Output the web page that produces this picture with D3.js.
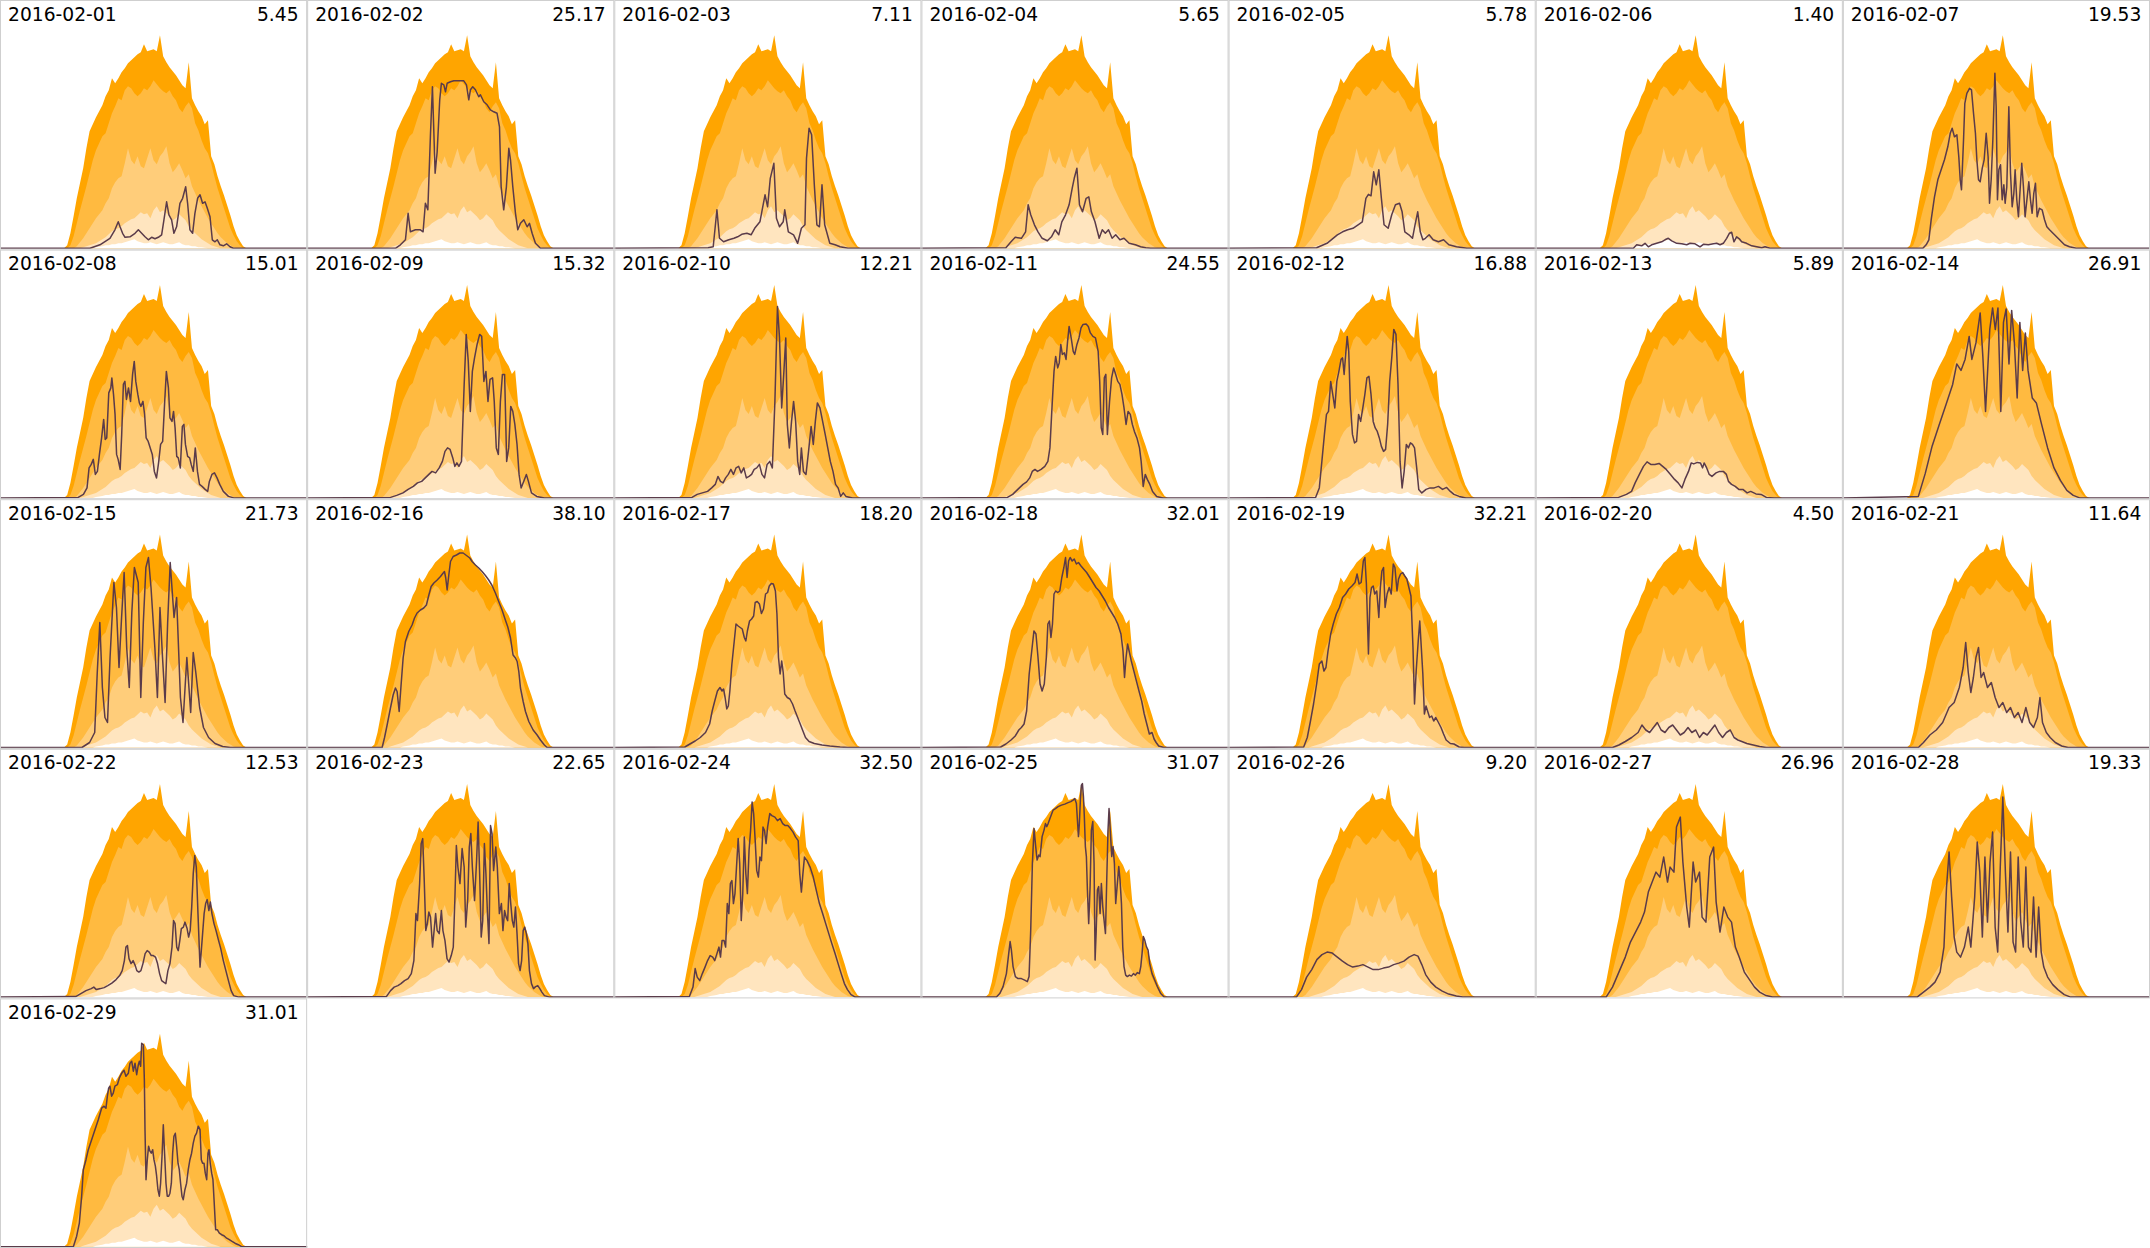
<!DOCTYPE html>
<html><head><meta charset="utf-8">
<script src="https://cdn.jsdelivr.net/npm/d3@7/dist/d3.min.js"></script>
<style>body{margin:0;background:#fff}svg{display:block}</style>
</head><body><svg id="c" width="2150" height="1248"></svg>
<script>
const dates = ["2016-02-01","2016-02-02","2016-02-03","2016-02-04","2016-02-05","2016-02-06","2016-02-07",
"2016-02-08","2016-02-09","2016-02-10","2016-02-11","2016-02-12","2016-02-13","2016-02-14",
"2016-02-15","2016-02-16","2016-02-17","2016-02-18","2016-02-19","2016-02-20","2016-02-21",
"2016-02-22","2016-02-23","2016-02-24","2016-02-25","2016-02-26","2016-02-27","2016-02-28","2016-02-29"];
const totals = ["5.45","25.17","7.11","5.65","5.78","1.40","19.53","15.01","15.32","12.21","24.55","16.88","5.89","26.91",
"21.73","38.10","18.20","32.01","32.21","4.50","11.64","12.53","22.65","32.50","31.07","9.20","26.96","19.33","31.01"];

// quantile envelopes over all days (kW), sampled every 15 min from 05:00 to 19:30
const bandHours = d3.range(5, 19.5001, 0.25);
const bandMax = [0,0.06,0.30,0.64,1.00,1.30,1.60,2.00,2.34,2.48,2.62,2.74,2.86,3.04,3.16,3.40,3.30,3.40,3.52,3.60,3.70,3.76,3.82,3.88,3.92,4.08,3.94,3.96,3.98,3.94,4.26,3.84,3.72,3.62,3.54,3.46,3.36,3.26,3.20,3.72,3.00,2.86,2.74,2.64,2.48,2.56,1.84,1.68,1.44,1.24,1.06,0.86,0.66,0.44,0.26,0.14,0.04,0,0];
const bandQ75 = [0,0,0.06,0.24,0.5,0.76,1.0,1.24,1.5,1.76,1.96,2.1,2.24,2.3,2.5,2.7,2.84,3.0,2.96,3.16,3.24,3.2,3.1,3.04,3.1,3.2,3.16,3.24,3.36,3.28,3.2,3.14,3.1,3.16,3.04,2.96,2.8,2.72,2.84,2.92,2.8,2.5,2.36,2.16,2.0,1.9,1.7,1.44,1.2,1.0,0.8,0.6,0.4,0.26,0.14,0.06,0,0,0];
const bandQ50 = [0,0,0,0,0.04,0.12,0.2,0.3,0.4,0.5,0.6,0.68,0.76,0.9,1.0,1.2,1.32,1.4,1.44,1.7,2.0,1.76,1.68,1.84,1.64,1.6,1.8,2.0,1.76,1.68,1.84,1.92,2.04,1.7,1.52,1.6,1.7,1.56,1.4,1.48,1.24,1.1,0.96,0.84,0.72,0.6,0.5,0.4,0.3,0.22,0.16,0.1,0.06,0.02,0,0,0,0,0];
const bandQ25 = [0,0,0,0,0,0,0.02,0.04,0.06,0.08,0.1,0.14,0.18,0.22,0.28,0.34,0.38,0.4,0.44,0.5,0.54,0.58,0.6,0.66,0.72,0.68,0.7,0.6,0.76,0.84,0.72,0.76,0.7,0.64,0.56,0.6,0.68,0.62,0.56,0.44,0.36,0.3,0.24,0.18,0.14,0.1,0.06,0.04,0.02,0,0,0,0,0,0,0,0,0,0];
const bandLow = [0,0,0,0,0,0,0,0,0,0,0.02,0.03,0.04,0.06,0.06,0.08,0.08,0.1,0.1,0.12,0.14,0.16,0.18,0.14,0.12,0.1,0.1,0.12,0.1,0.08,0.1,0.12,0.1,0.08,0.08,0.1,0.12,0.08,0.06,0.06,0.04,0.04,0.02,0.02,0.01,0,0,0,0,0,0,0,0,0,0,0,0,0,0];

// daily power curves: [hour, kW, hour, kW, ...]
const day01 = [7.03,0,7.81,0.07,8.59,0.2,8.98,0.37,9.24,0.53,9.38,0.43,9.58,0.3,9.77,0.22,10.16,0.23,10.55,0.3,10.81,0.37,11.07,0.3,11.33,0.23,11.59,0.17,11.85,0.22,12.11,0.19,12.37,0.22,12.63,0.27,12.81,0.57,13.02,0.93,13.2,0.67,13.41,0.57,13.59,0.3,13.8,0.43,14.06,0.9,14.27,1.0,14.51,1.23,14.66,0.9,14.84,0.37,15.05,0.3,15.23,0.7,15.44,1.0,15.63,1.07,15.83,0.9,16.02,0.93,16.2,0.8,16.41,0.63,16.59,0.17,16.8,0.13,16.98,0.17,17.19,0.07,17.45,0.05,17.71,0.09,17.97,0.03,18.23,0];
const day02 = [6.9,0,7.29,0.07,7.68,0.17,7.89,0.7,8.07,0.33,8.46,0.37,8.85,0.37,9.06,0.33,9.24,0.9,9.43,0.77,9.64,2.3,9.79,3.23,10.0,1.5,10.16,1.93,10.36,2.97,10.49,3.3,10.68,3.27,10.81,3.13,10.94,3.3,11.2,3.33,11.46,3.35,12.24,3.35,12.45,3.27,12.63,2.97,12.76,3.17,12.94,3.23,13.15,3.17,13.41,3.03,13.54,3.07,13.8,2.93,14.06,2.87,14.32,2.77,14.58,2.73,14.84,2.7,15.03,2.43,15.16,1.23,15.36,0.77,15.57,1.23,15.76,2.0,15.89,1.77,16.07,1.23,16.28,0.7,16.46,0.37,16.67,0.5,16.93,0.57,17.19,0.43,17.37,0.5,17.58,0.3,17.84,0.1,18.23,0];
const day03 = [7.33,0.01,7.73,0.03,8.02,0.77,8.22,0.2,8.54,0.13,8.95,0.17,9.35,0.2,9.64,0.23,9.96,0.28,10.36,0.3,10.69,0.27,10.97,0.4,11.38,0.53,11.78,1.07,11.98,0.83,12.19,1.4,12.47,1.7,12.67,0.6,12.91,0.43,13.2,0.53,13.32,0.77,13.6,0.33,14.01,0.27,14.33,0.1,14.62,0.4,14.9,0.47,15.02,1.8,15.22,2.4,15.42,2.27,15.63,1.27,15.83,0.47,16.03,0.43,16.23,1.27,16.44,0.47,16.84,0.1,17.25,0.07,17.65,0.03,18.26,0];
const day04 = [6.6,0.01,7.0,0.13,7.33,0.22,7.81,0.2,8.14,0.33,8.34,0.87,8.54,0.67,8.83,0.47,9.11,0.33,9.43,0.2,9.84,0.15,10.16,0.23,10.45,0.37,10.73,0.27,10.97,0.53,11.26,0.67,11.54,0.87,11.78,1.2,11.94,1.4,12.15,1.6,12.35,0.87,12.59,0.73,12.87,1.0,13.08,1.03,13.28,0.73,13.56,0.53,13.89,0.2,14.13,0.37,14.37,0.3,14.62,0.37,14.9,0.2,15.18,0.27,15.51,0.17,15.83,0.2,16.23,0.1,16.72,0.07,17.13,0.03,17.53,0.01,17.9,0];
const day05 = [6.88,0.01,7.69,0.1,8.5,0.27,8.91,0.33,9.31,0.37,9.72,0.4,10.12,0.47,10.45,0.53,10.73,1.0,10.93,1.08,11.13,1.05,11.34,1.53,11.54,1.27,11.74,1.57,11.94,1.0,12.15,0.47,12.47,0.4,12.75,0.67,13.04,0.87,13.36,0.9,13.56,0.73,13.77,0.33,14.09,0.27,14.37,0.2,14.57,0.47,14.78,0.73,14.98,0.33,15.18,0.17,15.38,0.2,15.67,0.27,15.99,0.17,16.4,0.13,16.8,0.17,17.21,0.07,17.81,0.03,18.62,0];
const day06 = [7.63,0,7.89,0.07,8.28,0.05,8.54,0.1,8.8,0.03,9.06,0.07,9.45,0.1,9.84,0.13,10.1,0.17,10.36,0.2,10.63,0.15,11.02,0.1,11.41,0.09,11.8,0.07,12.06,0.1,12.45,0.09,12.84,0.03,13.1,0.08,13.49,0.07,13.88,0.09,14.14,0.1,14.4,0.07,14.66,0.1,14.92,0.2,15.13,0.3,15.31,0.32,15.49,0.13,15.7,0.23,15.91,0.19,16.09,0.13,16.48,0.1,16.88,0.05,17.27,0.03,17.66,0.01,17.92,0.03,18.31,0];
const day07 = [6.25,0,6.51,0.07,6.72,0.17,6.9,0.57,7.16,1.03,7.42,1.37,7.68,1.57,7.94,1.77,8.2,2.03,8.39,2.3,8.54,2.4,8.72,2.23,8.91,2.27,9.06,1.83,9.17,1.37,9.27,1.17,9.43,2.17,9.53,2.9,9.69,3.1,9.9,3.2,10.05,3.17,10.21,2.7,10.36,2.3,10.47,1.77,10.6,1.37,10.73,1.33,10.89,1.6,11.04,1.77,11.2,2.3,11.35,1.83,11.46,0.9,11.59,1.37,11.72,2.17,11.88,3.5,11.98,2.83,12.08,0.97,12.19,1.57,12.32,1.67,12.45,0.97,12.58,1.27,12.68,0.9,12.81,1.23,12.97,2.83,13.1,1.5,13.23,0.83,13.36,1.1,13.46,1.57,13.59,0.97,13.72,0.63,13.85,1.17,13.98,1.7,14.11,1.23,14.24,0.63,14.38,0.97,14.53,1.33,14.66,0.97,14.79,0.7,14.92,1.1,15.05,1.3,15.18,0.63,15.36,0.8,15.57,0.77,15.76,0.57,15.94,0.43,16.15,0.37,16.54,0.27,16.93,0.17,17.32,0.07,17.71,0.03,18.23,0];
const day08 = [6.11,0.01,6.52,0.07,6.8,0.2,6.96,0.6,7.13,0.67,7.29,0.77,7.45,0.47,7.61,0.53,7.77,0.87,7.94,1.2,8.1,1.57,8.22,1.17,8.34,1.2,8.5,2.1,8.66,2.2,8.74,2.4,8.87,2.07,8.99,1.67,9.11,0.87,9.23,0.77,9.39,0.57,9.51,1.27,9.64,2.27,9.76,2.33,9.88,1.97,10.04,2.2,10.2,1.93,10.36,2.47,10.49,2.73,10.61,2.33,10.77,2.07,10.89,1.9,11.01,1.83,11.17,1.93,11.3,1.67,11.42,1.2,11.58,1.13,11.74,1.0,11.9,0.87,12.06,0.53,12.23,0.4,12.39,0.7,12.55,1.07,12.71,1.13,12.87,1.93,13.0,2.53,13.16,2.2,13.28,1.6,13.44,1.53,13.56,1.73,13.68,1.4,13.81,0.83,13.93,0.8,14.09,0.6,14.25,1.43,14.37,1.47,14.49,1.07,14.66,0.83,14.82,0.8,14.94,0.67,15.1,0.53,15.26,1.0,15.43,0.53,15.59,0.27,15.79,0.23,16.03,0.17,16.23,0.13,16.36,0.33,16.56,0.47,16.76,0.5,16.96,0.4,17.17,0.27,17.45,0.13,17.85,0.03,18.26,0];
const day09 = [6.52,0.01,7.0,0.05,7.49,0.1,7.89,0.17,8.3,0.23,8.62,0.3,8.95,0.33,9.23,0.4,9.51,0.47,9.76,0.53,10.04,0.5,10.32,0.6,10.57,0.73,10.77,0.93,10.97,1.0,11.17,0.97,11.38,0.8,11.54,0.63,11.7,0.7,11.86,0.63,12.06,0.73,12.27,2.27,12.43,3.27,12.59,2.73,12.75,1.73,12.91,2.53,13.08,2.8,13.28,3.07,13.48,3.27,13.64,3.23,13.81,2.33,13.97,2.53,14.13,1.93,14.29,2.37,14.49,2.4,14.62,1.93,14.78,1.0,14.94,0.87,15.1,1.93,15.26,2.47,15.43,2.47,15.59,0.73,15.75,1.0,15.91,1.83,16.07,1.73,16.23,1.47,16.4,1.07,16.56,0.47,16.72,0.2,16.92,0.33,17.13,0.47,17.29,0.33,17.53,0.1,17.94,0.03,18.54,0];
const day10 = [6.07,0.01,6.48,0.07,6.88,0.1,7.29,0.13,7.61,0.2,7.89,0.27,8.1,0.43,8.3,0.33,8.5,0.3,8.7,0.4,8.91,0.47,9.11,0.57,9.31,0.47,9.51,0.6,9.72,0.63,9.92,0.5,10.12,0.6,10.32,0.4,10.53,0.43,10.73,0.47,10.93,0.57,11.13,0.6,11.34,0.67,11.54,0.47,11.74,0.4,11.94,0.67,12.15,0.73,12.35,0.6,12.55,1.93,12.75,3.83,12.91,3.2,13.08,1.8,13.24,2.47,13.4,3.2,13.52,1.47,13.68,1.0,13.85,1.53,14.01,1.93,14.17,1.53,14.33,0.73,14.49,0.47,14.62,1.0,14.78,0.53,14.98,0.47,15.18,0.93,15.38,1.43,15.55,1.07,15.71,1.53,15.87,1.9,16.07,1.8,16.28,1.53,16.48,1.27,16.68,1.0,16.88,0.73,17.09,0.53,17.29,0.27,17.49,0.2,17.69,0.03,17.89,0.1,18.1,0.03,18.62,0];
const day11 = [6.72,0.01,7.13,0.07,7.53,0.17,7.94,0.27,8.22,0.32,8.46,0.4,8.66,0.53,8.87,0.57,9.07,0.53,9.35,0.57,9.64,0.63,9.88,0.73,10.04,1.0,10.2,1.8,10.36,2.53,10.49,2.83,10.65,2.6,10.77,2.7,10.89,3.07,11.01,2.87,11.17,2.9,11.3,2.77,11.42,3.13,11.54,3.43,11.7,3.2,11.86,2.93,11.98,2.87,12.15,3.07,12.31,3.2,12.47,3.4,12.63,3.47,12.87,3.48,13.04,3.43,13.2,3.3,13.4,3.23,13.6,3.2,13.81,2.93,13.93,2.33,14.05,1.4,14.17,1.27,14.29,2.4,14.41,2.47,14.53,1.27,14.7,1.93,14.86,2.4,15.02,2.6,15.18,2.47,15.34,2.33,15.51,2.27,15.67,2.07,15.83,1.8,15.99,1.47,16.15,1.73,16.32,1.67,16.48,1.47,16.64,1.33,16.84,1.2,17.04,1.0,17.17,0.73,17.33,0.23,17.49,0.47,17.65,0.37,17.85,0.27,18.06,0.13,18.38,0.03,18.87,0];
const day12 = [6.8,0.01,7.09,0.2,7.29,0.73,7.49,1.27,7.65,1.67,7.81,1.73,7.98,2.33,8.14,2.07,8.3,1.8,8.46,2.33,8.62,2.53,8.79,2.77,8.91,2.8,9.03,2.47,9.15,2.87,9.27,3.23,9.39,2.93,9.51,1.93,9.68,1.27,9.84,1.1,10.0,1.13,10.16,1.67,10.32,1.53,10.49,1.8,10.65,2.07,10.81,2.4,10.97,2.43,11.13,2.07,11.3,1.53,11.46,1.4,11.62,1.33,11.78,1.2,11.94,1.03,12.11,0.93,12.27,0.97,12.43,1.47,12.59,2.33,12.75,2.8,12.91,3.37,13.08,3.27,13.24,2.27,13.4,0.73,13.56,0.2,13.72,0.53,13.89,1.07,14.05,1.0,14.21,1.1,14.37,1.07,14.53,1.0,14.7,0.6,14.86,0.17,15.1,0.1,15.43,0.17,15.75,0.2,16.07,0.2,16.4,0.23,16.72,0.17,17.04,0.21,17.33,0.13,17.61,0.07,18.02,0.03,18.54,0];
const day13 = [6.48,0.01,7.09,0.07,7.49,0.13,7.77,0.3,8.1,0.47,8.42,0.63,8.7,0.72,8.99,0.67,9.31,0.67,9.64,0.69,9.92,0.63,10.2,0.57,10.53,0.47,10.85,0.37,11.13,0.3,11.42,0.2,11.66,0.37,11.94,0.53,12.15,0.7,12.35,0.68,12.63,0.71,12.87,0.7,13.04,0.6,13.16,0.7,13.36,0.6,13.56,0.47,13.77,0.43,14.09,0.5,14.37,0.53,14.66,0.53,14.9,0.47,15.06,0.33,15.3,0.27,15.59,0.23,15.87,0.17,16.19,0.17,16.52,0.1,16.8,0.13,17.21,0.08,17.61,0.07,18.02,0.01,18.62,0];
const day14 = [5.9,0.03,6.44,0.49,6.98,1.04,7.51,1.45,8.05,1.86,8.58,2.27,8.9,2.68,9.23,2.55,9.55,2.77,9.87,3.23,10.08,2.77,10.4,3.1,10.73,3.7,10.94,2.82,11.15,1.73,11.48,3.37,11.7,3.8,11.91,3.37,12.12,3.8,12.34,1.73,12.55,3.51,12.76,3.78,12.98,2.68,13.19,3.75,13.4,3.11,13.62,2.0,13.83,3.51,14.05,2.55,14.26,3.3,14.47,2.55,14.8,2.0,15.12,1.9,15.5,1.5,16.0,1.0,16.5,0.6,17.0,0.35,17.5,0.15,18.0,0.05,18.5,0];
const day15 = [6.4,0,7.0,0.1,7.4,0.3,7.6,1.5,7.8,2.5,8.0,1.2,8.2,0.6,8.4,0.5,8.6,1.8,8.9,3.3,9.1,2.8,9.3,1.6,9.5,2.6,9.7,3.5,9.9,2.0,10.1,1.2,10.3,2.7,10.5,3.6,10.8,3.3,11.0,1.0,11.2,2.5,11.4,3.6,11.6,3.8,11.8,3.2,12.1,2.0,12.3,1.0,12.5,2.8,12.7,1.8,12.9,0.9,13.1,2.5,13.3,3.7,13.6,2.6,13.8,3.0,14.1,1.0,14.3,0.5,14.6,1.8,14.9,0.7,15.1,1.9,15.3,1.5,15.6,0.8,15.9,0.4,16.3,0.2,16.8,0.08,17.4,0.02,18.0,0];
const day16 = [5.86,0,6.04,0.19,6.25,0.45,6.51,0.79,6.72,1.05,6.9,1.19,7.03,1.12,7.19,0.72,7.34,1.25,7.5,1.79,7.68,2.12,7.94,2.32,8.2,2.45,8.39,2.59,8.59,2.69,8.85,2.75,9.11,2.79,9.32,2.85,9.51,3.05,9.69,3.22,9.9,3.29,10.16,3.35,10.42,3.42,10.63,3.49,10.73,3.52,10.83,3.39,10.94,3.15,11.07,3.45,11.2,3.72,11.41,3.82,11.67,3.85,11.93,3.89,12.19,3.89,12.45,3.84,12.71,3.79,12.89,3.72,13.15,3.65,13.41,3.59,13.67,3.52,13.93,3.44,14.19,3.35,14.45,3.24,14.71,3.09,14.97,2.92,15.23,2.75,15.49,2.55,15.68,2.41,15.89,2.19,16.09,1.85,16.28,1.79,16.41,1.72,16.54,1.52,16.67,1.19,16.88,0.92,17.06,0.72,17.32,0.52,17.66,0.35,17.97,0.25,18.23,0.15,18.54,0.05,18.75,0];
const day17 = [5.51,0.01,5.91,0.07,6.32,0.13,6.72,0.2,7.13,0.3,7.45,0.47,7.65,0.73,7.85,0.93,8.06,1.13,8.26,1.2,8.42,1.13,8.54,1.17,8.66,1.0,8.79,0.77,8.91,0.83,9.03,1.13,9.19,1.67,9.35,2.07,9.51,2.47,9.68,2.43,9.84,2.4,10.0,2.37,10.16,2.2,10.28,2.13,10.4,2.33,10.57,2.53,10.73,2.57,10.89,2.63,11.01,2.9,11.17,2.92,11.34,2.87,11.5,2.68,11.66,2.77,11.82,3.07,11.98,3.1,12.11,3.23,12.27,3.28,12.43,3.27,12.59,3.13,12.71,2.67,12.83,1.8,12.96,1.47,13.08,1.73,13.2,1.5,13.32,1.07,13.52,1.0,13.72,0.97,13.93,0.87,14.13,0.73,14.33,0.6,14.53,0.47,14.74,0.33,14.94,0.2,15.22,0.12,15.63,0.08,16.23,0.05,16.84,0.03,17.65,0.01,18.26,0];
const day18 = [6.19,0.01,6.6,0.07,7.0,0.15,7.33,0.23,7.61,0.35,7.81,0.4,8.02,0.47,8.22,0.73,8.42,1.47,8.62,1.93,8.79,2.33,8.95,2.27,9.11,1.8,9.27,1.27,9.43,1.13,9.6,1.27,9.76,1.8,9.88,2.47,10.0,2.53,10.12,2.2,10.24,2.47,10.36,3.07,10.49,3.13,10.65,3.1,10.81,3.13,10.97,3.4,11.13,3.6,11.26,3.8,11.38,3.4,11.5,3.73,11.62,3.8,11.78,3.73,11.94,3.77,12.11,3.67,12.27,3.7,12.47,3.63,12.67,3.57,12.91,3.5,13.16,3.4,13.4,3.3,13.64,3.2,13.89,3.13,14.13,3.03,14.37,2.93,14.62,2.8,14.86,2.7,15.1,2.6,15.34,2.47,15.59,2.27,15.75,1.93,15.87,1.4,15.99,1.8,16.11,2.07,16.23,1.93,16.4,1.73,16.6,1.53,16.8,1.33,17.0,1.13,17.21,0.93,17.41,0.67,17.61,0.47,17.81,0.27,18.02,0.3,18.18,0.17,18.34,0.1,18.54,0.03,18.95,0];
const day19 = [5.87,0.01,6.15,0.2,6.4,0.53,6.64,0.87,6.88,1.27,7.09,1.67,7.29,1.73,7.45,1.53,7.61,1.6,7.77,1.93,7.98,2.27,8.18,2.47,8.42,2.67,8.66,2.8,8.91,3.0,9.15,3.07,9.39,3.17,9.64,3.23,9.88,3.3,10.04,3.47,10.2,3.27,10.36,3.3,10.53,3.73,10.65,3.8,10.77,3.27,10.93,1.87,11.05,3.0,11.17,3.2,11.3,3.23,11.42,3.07,11.58,3.13,11.74,2.6,11.86,3.2,11.98,3.53,12.11,3.6,12.23,2.8,12.39,3.07,12.55,3.2,12.71,3.07,12.87,3.67,13.0,3.6,13.16,3.13,13.28,3.37,13.44,3.47,13.6,3.5,13.77,3.43,13.93,3.37,14.09,3.2,14.25,3.03,14.41,2.0,14.53,0.87,14.66,1.53,14.82,2.13,14.94,2.53,15.06,2.0,15.18,1.47,15.3,0.67,15.43,0.83,15.55,0.73,15.71,0.6,15.87,0.63,16.03,0.53,16.19,0.6,16.4,0.5,16.6,0.4,16.8,0.27,17.0,0.15,17.33,0.08,17.61,0.07,18.02,0.01,18.42,0];
const day20 = [6.0,0,6.5,0.05,7.0,0.12,7.5,0.2,8.0,0.3,8.3,0.45,8.6,0.35,8.9,0.3,9.2,0.4,9.5,0.5,9.8,0.35,10.1,0.3,10.4,0.4,10.7,0.45,11.0,0.35,11.3,0.25,11.6,0.3,11.9,0.4,12.2,0.3,12.5,0.35,12.8,0.2,13.1,0.3,13.4,0.25,13.7,0.35,14.0,0.45,14.3,0.3,14.6,0.2,14.9,0.3,15.2,0.35,15.5,0.2,15.8,0.15,16.1,0.12,16.5,0.08,17.0,0.05,17.5,0.02,18.0,0];
const day21 = [5.9,0,6.3,0.1,6.8,0.25,7.3,0.35,7.8,0.5,8.3,0.8,8.7,0.9,9.1,1.2,9.4,1.6,9.6,2.1,9.8,1.5,10.0,1.1,10.2,1.4,10.4,1.8,10.6,2.0,10.8,1.4,11.0,1.5,11.3,1.2,11.6,1.3,11.9,1.0,12.2,0.8,12.5,0.9,12.8,0.7,13.1,0.8,13.4,0.6,13.7,0.7,14.0,0.5,14.3,0.8,14.6,0.5,14.9,0.4,15.2,0.6,15.4,1.0,15.6,0.5,15.9,0.3,16.2,0.2,16.6,0.1,17.1,0.03,17.6,0];
const day22 = [5.91,0.01,6.32,0.07,6.72,0.13,7.13,0.17,7.33,0.2,7.53,0.15,7.85,0.17,8.14,0.19,8.42,0.23,8.74,0.28,9.07,0.35,9.35,0.43,9.55,0.53,9.72,0.73,9.84,1.0,9.96,1.03,10.08,0.77,10.24,0.67,10.4,0.73,10.57,0.63,10.69,0.53,10.85,0.5,11.01,0.53,11.17,0.67,11.34,0.87,11.5,0.93,11.66,0.9,11.82,0.83,11.98,0.83,12.15,0.8,12.31,0.67,12.47,0.47,12.63,0.33,12.79,0.3,12.96,0.27,13.12,0.53,13.28,0.67,13.44,1.0,13.56,1.53,13.68,1.47,13.81,1.0,13.93,0.93,14.05,1.13,14.17,1.37,14.33,1.4,14.45,1.5,14.62,1.37,14.74,1.2,14.86,1.33,14.98,1.8,15.1,2.47,15.22,2.83,15.34,2.6,15.47,1.67,15.63,0.6,15.79,1.13,15.95,1.67,16.07,1.87,16.19,1.95,16.32,1.73,16.44,1.9,16.56,1.67,16.72,1.47,16.88,1.33,17.04,1.17,17.25,0.97,17.45,0.73,17.65,0.53,17.85,0.33,18.06,0.13,18.26,0.03,18.66,0];
const day23 = [6.19,0.01,6.52,0.13,6.8,0.2,7.09,0.23,7.33,0.27,7.61,0.33,7.89,0.37,8.14,0.47,8.34,0.73,8.5,1.67,8.62,1.53,8.79,2.27,8.91,3.07,9.03,3.17,9.15,2.33,9.27,1.33,9.39,1.47,9.51,1.7,9.64,1.6,9.8,1.0,9.92,1.33,10.04,1.67,10.16,1.33,10.32,1.27,10.49,1.73,10.61,1.33,10.77,1.13,10.93,0.77,11.09,0.7,11.26,0.83,11.42,1.0,11.54,1.93,11.66,3.03,11.78,2.6,11.94,2.27,12.11,2.97,12.27,2.6,12.39,1.4,12.55,1.97,12.67,3.0,12.79,3.27,12.91,2.6,13.08,1.93,13.24,2.73,13.36,3.5,13.48,2.47,13.6,1.2,13.72,1.53,13.85,3.07,13.97,2.47,14.09,1.67,14.21,1.07,14.33,3.43,14.45,3.27,14.57,2.53,14.74,3.0,14.86,2.6,15.02,1.67,15.18,1.87,15.3,1.33,15.43,1.73,15.55,1.6,15.67,1.53,15.79,2.27,15.91,1.87,16.03,1.53,16.15,1.4,16.28,1.8,16.4,1.27,16.52,0.67,16.64,0.53,16.76,0.73,16.88,1.33,17.0,1.4,17.13,1.27,17.25,1.07,17.37,0.53,17.53,0.27,17.69,0.17,17.85,0.21,18.02,0.23,18.18,0.17,18.34,0.1,18.54,0.03,18.95,0];
const day24 = [5.87,0.01,6.15,0.2,6.32,0.57,6.48,0.4,6.68,0.33,6.88,0.47,7.09,0.6,7.29,0.73,7.49,0.83,7.69,0.8,7.85,0.73,8.02,0.87,8.18,1.0,8.3,0.8,8.42,1.13,8.58,1.13,8.7,1.0,8.83,1.87,8.95,1.67,9.07,2.27,9.19,2.33,9.31,1.87,9.43,2.07,9.55,2.6,9.68,3.17,9.8,2.67,9.92,1.53,10.04,2.07,10.16,3.2,10.28,2.47,10.4,2.07,10.53,2.93,10.65,3.33,10.77,3.9,10.89,3.67,11.01,3.13,11.13,2.53,11.26,2.4,11.38,2.8,11.5,2.73,11.62,3.4,11.74,3.33,11.86,3.07,11.98,3.4,12.15,3.67,12.31,3.63,12.55,3.6,12.75,3.53,12.96,3.57,13.16,3.47,13.36,3.43,13.56,3.43,13.77,3.37,13.97,3.3,14.17,3.2,14.37,3.13,14.49,2.47,14.62,2.1,14.74,2.47,14.86,2.8,15.06,2.73,15.3,2.6,15.55,2.4,15.79,2.13,16.03,1.87,16.28,1.67,16.52,1.47,16.76,1.27,17.0,1.07,17.25,0.87,17.49,0.67,17.73,0.47,17.98,0.27,18.22,0.15,18.5,0.05,18.83,0];
const day25 = [5.86,0,6.12,0.07,6.38,0.21,6.64,0.47,6.82,0.87,6.93,1.11,7.03,0.94,7.16,0.61,7.34,0.41,7.55,0.37,7.81,0.37,8.07,0.34,8.28,0.31,8.41,0.41,8.54,1.34,8.67,2.67,8.8,3.37,8.93,3.01,9.04,2.74,9.17,2.84,9.27,2.81,9.43,3.21,9.58,3.34,9.69,3.47,9.79,3.41,9.9,3.47,10.1,3.61,10.29,3.74,10.47,3.77,10.68,3.81,10.94,3.84,11.2,3.86,11.46,3.89,11.67,3.91,11.85,3.94,11.98,3.97,12.11,3.87,12.19,3.54,12.27,3.21,12.34,3.47,12.42,3.94,12.5,4.24,12.58,4.27,12.66,4.01,12.73,3.61,12.81,3.01,12.89,2.81,12.97,2.14,13.07,1.47,13.18,2.21,13.28,3.34,13.39,3.51,13.49,2.67,13.57,0.74,13.65,1.27,13.75,2.14,13.85,2.21,13.96,1.67,14.06,2.27,14.17,1.81,14.27,1.54,14.38,1.27,14.48,2.34,14.58,3.34,14.66,3.77,14.77,3.27,14.87,2.81,14.97,3.01,15.08,2.67,15.18,1.87,15.29,2.21,15.42,2.61,15.52,2.34,15.63,1.87,15.73,1.01,15.83,0.61,15.96,0.44,16.09,0.41,16.25,0.44,16.41,0.42,16.56,0.47,16.72,0.44,16.88,0.49,17.03,0.47,17.14,0.61,17.24,0.87,17.34,1.21,17.45,1.14,17.58,1.01,17.71,0.94,17.84,0.67,18.02,0.47,18.23,0.34,18.44,0.21,18.7,0.07,18.96,0];
const day26 = [5.3,0,5.7,0.15,6.1,0.4,6.5,0.55,6.9,0.75,7.3,0.85,7.7,0.9,8.1,0.88,8.5,0.8,8.9,0.72,9.3,0.65,9.7,0.6,10.1,0.62,10.5,0.65,10.9,0.6,11.3,0.55,11.7,0.55,12.1,0.58,12.5,0.6,12.9,0.65,13.3,0.68,13.7,0.72,14.1,0.8,14.5,0.85,14.8,0.82,15.1,0.65,15.4,0.45,15.8,0.3,16.2,0.2,16.7,0.12,17.2,0.06,17.8,0.02,18.3,0];
const day27 = [5.5,0,6.0,0.2,6.5,0.5,7.0,0.8,7.4,1.1,7.8,1.3,8.2,1.5,8.5,1.7,8.8,2.1,9.1,2.3,9.4,2.5,9.7,2.4,10.0,2.8,10.3,2.3,10.5,2.6,10.8,2.5,11.0,3.4,11.3,3.6,11.5,2.7,11.8,1.8,12.0,1.4,12.3,2.7,12.5,2.3,12.8,2.5,13.0,1.6,13.3,1.5,13.6,2.8,13.9,3.0,14.1,1.9,14.4,1.3,14.7,1.8,15.0,1.6,15.3,1.5,15.6,1.0,15.9,0.8,16.3,0.5,16.7,0.35,17.1,0.2,17.5,0.1,18.0,0.03,18.5,0];
const day28 = [5.8,0,6.3,0.1,6.8,0.2,7.2,0.3,7.6,0.5,7.9,1.0,8.1,2.2,8.3,2.9,8.5,2.0,8.7,1.2,8.9,0.9,9.2,0.8,9.5,1.0,9.8,1.4,10.0,1.0,10.3,2.0,10.5,3.1,10.7,2.5,10.9,1.2,11.1,2.8,11.3,1.5,11.5,2.7,11.7,3.3,11.9,1.4,12.1,0.9,12.3,2.6,12.5,4.0,12.7,2.5,12.9,1.3,13.1,2.9,13.3,1.1,13.5,0.9,13.7,2.8,13.9,1.5,14.1,1.0,14.3,2.6,14.5,1.0,14.7,0.9,14.9,2.0,15.1,0.8,15.3,1.8,15.5,0.9,15.7,0.6,16.0,0.4,16.4,0.25,16.8,0.15,17.3,0.05,17.8,0];
const day29 = [5.73,0,5.99,0.21,6.2,0.47,6.38,1.01,6.51,1.54,6.72,1.74,6.9,1.94,7.16,2.14,7.42,2.34,7.68,2.54,7.94,2.77,8.13,2.81,8.28,2.77,8.39,3.01,8.49,3.17,8.59,3.21,8.72,3.01,8.85,3.07,8.98,3.21,9.17,3.24,9.32,3.37,9.51,3.47,9.69,3.53,9.84,3.41,10.03,3.47,10.16,3.67,10.29,3.71,10.42,3.51,10.55,3.67,10.68,3.44,10.81,3.64,10.89,3.71,10.99,3.61,11.07,4.07,11.2,4.04,11.28,3.34,11.33,2.34,11.41,1.34,11.51,1.74,11.61,2.01,11.72,1.91,11.82,1.87,11.93,1.94,12.03,1.74,12.14,1.61,12.24,1.41,12.34,1.14,12.45,1.01,12.55,1.27,12.66,1.81,12.76,2.44,12.86,1.87,12.97,1.27,13.07,1.01,13.18,1.01,13.28,1.07,13.39,1.27,13.49,1.87,13.59,2.21,13.7,2.27,13.8,2.01,13.91,1.67,14.01,1.54,14.11,1.27,14.22,1.01,14.32,0.94,14.45,1.14,14.58,1.27,14.71,1.54,14.84,1.74,14.97,1.87,15.1,2.07,15.23,2.21,15.36,2.27,15.49,2.41,15.63,2.34,15.73,1.74,15.83,1.67,15.94,1.67,16.04,1.47,16.15,1.34,16.25,1.87,16.33,1.94,16.43,1.67,16.54,1.47,16.64,1.34,16.74,0.87,16.85,0.34,16.98,0.34,17.14,0.27,17.32,0.24,17.5,0.22,17.71,0.17,17.92,0.14,18.1,0.11,18.36,0.07,18.62,0.04,18.88,0];

const dayLines = [day01,day02,day03,day04,day05,day06,day07,day08,day09,day10,day11,day12,day13,day14,
  day15,day16,day17,day18,day19,day20,day21,day22,day23,day24,day25,day26,day27,day28,day29];
const bandSeries = [bandMax, bandQ75, bandQ50, bandQ25, bandLow];
const bandColors = ["#ffa500", "#ffba40", "#ffcd7a", "#ffe5bf", "#ffffff"];

const W = 2150, H = 1248, cols = 7, rows = 5;
const pw = W / cols, ph = H / rows;
const x = d3.scaleLinear().domain([0, 24]).range([0, pw]);
const y = d3.scaleLinear().domain([0, 5]).range([248.3, -1.7]);

const svg = d3.select("#c");
svg.append("rect").attr("width", W).attr("height", H).attr("fill", "#fff");

const area = d3.area().x((d, i) => x(bandHours[i])).y0(y(0)).y1(d => y(d));
const line = d3.line().x(d => x(d[0])).y(d => y(d[1]));

dayLines.forEach((arr, i) => {
  const g = svg.append("g")
    .attr("transform", `translate(${(i % cols) * pw},${Math.floor(i / cols) * ph})`);
  bandSeries.forEach((b, j) => g.append("path").attr("d", area(b)).attr("fill", bandColors[j]));
  const pts = [[0, 0]];
  for (let k = 0; k < arr.length; k += 2) pts.push([arr[k], arr[k + 1]]);
  pts.push([24, 0]);
  g.append("path").attr("d", line(pts)).attr("fill", "none")
    .attr("stroke", "#5a3b4a").attr("stroke-width", 1.5).attr("stroke-linejoin", "round");
  g.append("rect").attr("x", 0.5).attr("y", 0.5).attr("width", pw - 1).attr("height", ph - 1)
    .attr("fill", "none").attr("stroke", "#cfcfcf").attr("stroke-width", 1);
  g.append("text").attr("x", 8).attr("y", 20.7).text(dates[i])
    .attr("font-family", "DejaVu Sans").attr("font-size", "18.7px").attr("fill", "#000");
  g.append("text").attr("x", pw - 8.6).attr("y", 20.7).attr("text-anchor", "end").text(totals[i])
    .attr("font-family", "DejaVu Sans").attr("font-size", "18.7px").attr("fill", "#000");
});
</script>
</body></html>
